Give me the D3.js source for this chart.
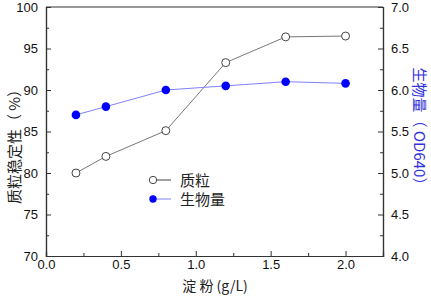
<!DOCTYPE html>
<html>
<head>
<meta charset="utf-8">
<script src="https://cdn.jsdelivr.net/npm/d3@7/dist/d3.min.js"></script>
<style>
  body { margin: 0; background: #fff; }
  svg { display: block; }
  .tick text { font-family: "Liberation Sans", Arial, sans-serif; font-size: 13px; fill: #111; }
</style>
</head>
<body>
<div id="chart"></div>
<script>
// starch concentration (g/L)
const starch = [0.2, 0.4, 0.8, 1.2, 1.6, 2.0];
// plasmid stability (%)
const plasmid = [80.0, 82.0, 85.1, 93.3, 96.4, 96.5];
// biomass (OD640)
const biomass = [5.7, 5.8, 6.0, 6.05, 6.1, 6.08];

const xTicks = [0.0, 0.5, 1.0, 1.5, 2.0];
const leftTicks = [70, 75, 80, 85, 90, 95, 100];
const rightTicks = [4.0, 4.5, 5.0, 5.5, 6.0, 6.5, 7.0];

const W = 431, H = 296;
const margin = { top: 7, right: 48, bottom: 40, left: 46 };
const width = W - margin.left - margin.right;
const height = H - margin.top - margin.bottom;

const svg = d3.select('#chart').append('svg')
  .attr('width', W).attr('height', H);
const g = svg.append('g')
  .attr('transform', `translate(${margin.left},${margin.top})`);

const x = d3.scaleLinear().domain([0, 2.25]).range([0, width]);
const yL = d3.scaleLinear().domain([70, 100]).range([height, 0]);
const yR = d3.scaleLinear().domain([4, 7]).range([height, 0]);

// minor ticks first
g.append('g').attr('transform', `translate(0,${height})`)
  .call(d3.axisBottom(x).tickValues(d3.range(0.25, 2.25, 0.5)).tickSize(-3).tickFormat(''));
g.append('g')
  .call(d3.axisLeft(yL).tickValues(d3.range(72.5, 100, 5)).tickSize(-3).tickFormat(''));
g.append('g').attr('transform', `translate(${width},0)`)
  .call(d3.axisRight(yR).tickValues(d3.range(4.25, 7, 0.5)).tickSize(-3).tickFormat(''));

// major axes
g.append('g').attr('transform', `translate(0,${height})`)
  .call(d3.axisBottom(x).tickValues(xTicks).tickSize(-5).tickPadding(4).tickFormat(d3.format('.1f')));
g.append('g')
  .call(d3.axisLeft(yL).tickValues(leftTicks).tickSize(-5).tickPadding(8));
g.append('g').attr('transform', `translate(${width},0)`)
  .call(d3.axisRight(yR).tickValues(rightTicks).tickSize(-5).tickPadding(8).tickFormat(d3.format('.1f')));

g.selectAll('.domain').attr('stroke', '#333').attr('stroke-width', 1.2);
g.selectAll('.tick line').attr('stroke', '#333');

// top border
g.append('line').attr('x1', 0).attr('x2', width).attr('y1', 0).attr('y2', 0)
  .attr('stroke', '#333').attr('stroke-width', 1.2);

// plasmid series
const pData = starch.map((s, i) => ({ x: s, y: plasmid[i] }));
g.append('path').datum(pData)
  .attr('fill', 'none').attr('stroke', '#777').attr('stroke-width', 1)
  .attr('d', d3.line().x(d => x(d.x)).y(d => yL(d.y)));
g.selectAll('.pdot').data(pData).enter().append('circle')
  .attr('cx', d => x(d.x)).attr('cy', d => yL(d.y)).attr('r', 4)
  .attr('fill', '#fff').attr('stroke', '#444').attr('stroke-width', 1);

// biomass series
const bData = starch.map((s, i) => ({ x: s, y: biomass[i] }));
g.append('path').datum(bData)
  .attr('fill', 'none').attr('stroke', '#8080ff').attr('stroke-width', 1)
  .attr('d', d3.line().x(d => x(d.x)).y(d => yR(d.y)));
g.selectAll('.bdot').data(bData).enter().append('circle')
  .attr('cx', d => x(d.x)).attr('cy', d => yR(d.y)).attr('r', 4.3)
  .attr('fill', '#0000ff');

// legend
const legend = svg.append('g').attr('transform', 'translate(153,180)');
const legendItems = [
  { label: '质粒', line: '#444', fill: '#fff', stroke: '#444' },
  { label: '生物量', line: '#8080ff', fill: '#0000ff', stroke: 'none' }
];
legendItems.forEach((it, i) => {
  const row = legend.append('g').attr('transform', `translate(0,${i * 19})`);
  row.append('line').attr('x1', 0).attr('x2', 18).attr('y1', 0).attr('y2', 0)
    .attr('stroke', it.line).attr('stroke-width', 1);
  row.append('circle').attr('cx', 0).attr('cy', 0).attr('r', 3.7)
    .attr('fill', it.fill).attr('stroke', it.stroke);
  row.append('text').attr('x', 27).attr('y', 6)
    .attr('font-family', '"Noto Sans CJK SC", sans-serif').attr('font-size', 15)
    .attr('fill', '#222').text(it.label);
});

// axis titles
svg.append('text')
  .attr('x', 215).attr('y', 291).attr('text-anchor', 'middle')
  .attr('font-family', '"Noto Sans CJK SC", sans-serif').attr('font-size', 14)
  .attr('fill', '#222').text('淀 粉 (g/L)');

svg.append('text')
  .attr('transform', 'translate(20,143) rotate(-90)').attr('text-anchor', 'middle')
  .attr('font-family', '"Noto Sans CJK SC", sans-serif').attr('font-size', 15)
  .attr('fill', '#222').text('质粒稳定性（ %）');

svg.append('text')
  .attr('transform', 'translate(414,130) rotate(90)').attr('text-anchor', 'middle')
  .attr('font-family', '"Noto Sans CJK SC", sans-serif').attr('font-size', 15)
  .attr('fill', '#3333dd').text('生物量（ OD640）');
</script>
</body>
</html>
